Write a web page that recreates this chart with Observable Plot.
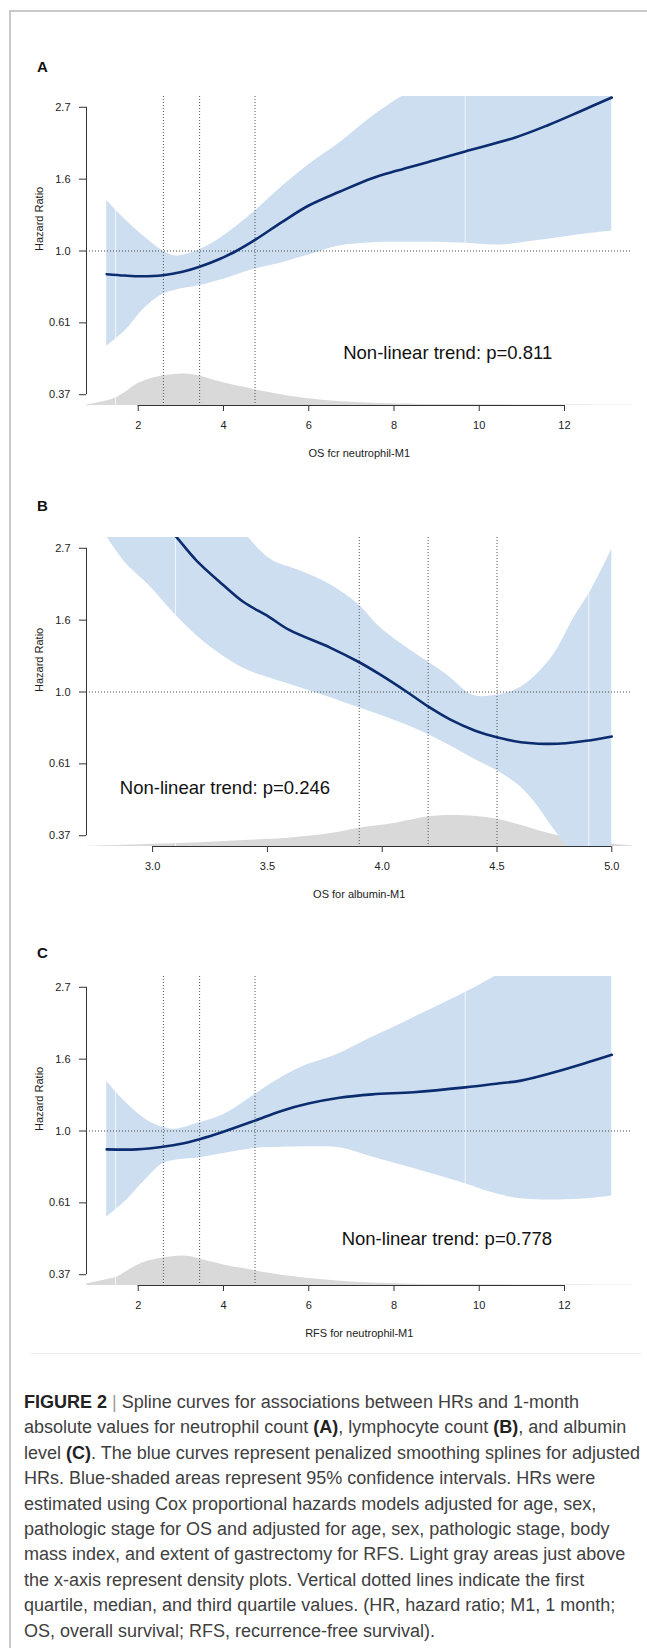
<!DOCTYPE html>
<html>
<head>
<meta charset="utf-8">
<script src="https://cdn.jsdelivr.net/npm/d3@7"></script>
<script src="https://cdn.jsdelivr.net/npm/@observablehq/plot@0.6"></script>
<style>
  html, body { margin: 0; padding: 0; background: #ffffff; }
  #fig { position: relative; width: 647px; height: 1648px; overflow: hidden; background: #fff;
         font-family: "Liberation Sans", Arial, Helvetica, sans-serif; }
  #frame { position: absolute; left: 9px; top: 10px; width: 800px; height: 1800px;
           border-left: 2px solid #c9c9c9; border-top: 2px solid #c9c9c9; }
  .panel { position: absolute; left: 0; }
  .letter { position: absolute; left: 37px; font-weight: bold; font-size: 15px; line-height: 15px; color: #111; }
  #sep { position: absolute; left: 31px; top: 1353px; width: 610px; height: 1px; background: #ededed; }
  #caption { position: absolute; left: 24px; top: 1390px; font-size: 18px; line-height: 25.4px;
             color: #404040; white-space: nowrap; }
  #caption b { color: #222; }
  #caption .bar { color: #9a9a9a; }
</style>
</head>
<body>
<div id="fig">
  <div id="frame"></div>
  <div id="sep"></div>
  <div id="caption">
    <div><b>FIGURE 2</b> <span class="bar">|</span> Spline curves for associations between HRs and 1-month</div>
    <div>absolute values for neutrophil count <b>(A)</b>, lymphocyte count <b>(B)</b>, and albumin</div>
    <div>level <b>(C)</b>. The blue curves represent penalized smoothing splines for adjusted</div>
    <div>HRs. Blue-shaded areas represent 95% confidence intervals. HRs were</div>
    <div>estimated using Cox proportional hazards models adjusted for age, sex,</div>
    <div>pathologic stage for OS and adjusted for age, sex, pathologic stage, body</div>
    <div>mass index, and extent of gastrectomy for RFS. Light gray areas just above</div>
    <div>the x-axis represent density plots. Vertical dotted lines indicate the first</div>
    <div>quartile, median, and third quartile values. (HR, hazard ratio; M1, 1 month;</div>
    <div>OS, overall survival; RFS, recurrence-free survival).</div>
  </div>
</div>
<script>
// ---------------- shared axis data ----------------
const yTickValues = [0.3679, 0.6065, 1.0, 1.6487, 2.7183];
const yTickLabels = ["0.37", "0.61", "1.0", "1.6", "2.7"];
const yDomain = [0.3413, 2.930];

// ---------------- Panel A: OS for neutrophil ----------------
const aCurveX = [1.26, 1.68, 2.07, 2.58, 3.04, 3.44, 3.91, 4.30, 4.74, 5.36, 5.99, 6.72, 7.49, 8.08, 8.95, 9.67, 10.83, 11.61, 12.39, 13.11];
const aCurveHR = [0.851, 0.843, 0.839, 0.845, 0.865, 0.896, 0.946, 1.0, 1.08, 1.22, 1.37, 1.51, 1.66, 1.75, 1.88, 2.0, 2.20, 2.40, 2.65, 2.91];
const aBandX = [1.26, 1.68, 2.16, 2.58, 2.89, 3.42, 4.0, 4.74, 5.36, 5.99, 6.72, 7.49, 8.22, 9.0, 9.67, 10.5, 11.37, 12.34, 13.11];
const aUpper = [1.42, 1.25, 1.10, 1.0, 0.966, 1.007, 1.11, 1.32, 1.56, 1.82, 2.12, 2.55, 2.95, 3.4, 3.8, 4.3, 4.8, 5.4, 6.0];
const aLower = [0.515, 0.572, 0.674, 0.74, 0.763, 0.785, 0.822, 0.882, 0.92, 0.972, 1.035, 1.06, 1.063, 1.062, 1.055, 1.043, 1.075, 1.12, 1.15];
const aDensX = [0.79, 1.2, 1.47, 1.7, 1.95, 2.2, 2.58, 2.8, 3.04, 3.25, 3.44, 3.7, 4.0, 4.4, 4.74, 5.1, 5.56, 6.0, 6.53, 7.0, 7.5, 8.46, 9.5, 10.4, 11.5, 13.0, 13.58];
const aDens = [0.02, 0.13, 0.24, 0.42, 0.66, 0.81, 0.93, 0.97, 1.0, 0.98, 0.93, 0.83, 0.72, 0.6, 0.5, 0.4, 0.29, 0.21, 0.14, 0.1, 0.07, 0.04, 0.03, 0.02, 0.015, 0.01, 0.01];
const aQuartiles = [2.59, 3.44, 4.74];
const aSeams = [1.47, 9.67];
const aXTicks = [2, 4, 6, 8, 10, 12];
const aXTickLabels = ["2", "4", "6", "8", "10", "12"];

// ---------------- Panel B: OS for albumin ----------------
const bCurveX = [2.8, 2.9, 3.0, 3.10, 3.19, 3.306, 3.396, 3.505, 3.595, 3.775, 3.90, 3.99, 4.108, 4.198, 4.297, 4.405, 4.495, 4.604, 4.71, 4.80, 4.89, 5.0];
const bCurveHR = [5.0, 4.2, 3.55, 2.96, 2.50, 2.11, 1.87, 1.69, 1.54, 1.36, 1.23, 1.13, 1.0, 0.906, 0.825, 0.764, 0.731, 0.705, 0.697, 0.70, 0.712, 0.734];
const bBandX = [2.8, 2.883, 2.982, 3.10, 3.234, 3.396, 3.514, 3.63, 3.775, 3.90, 3.99, 4.135, 4.28, 4.396, 4.495, 4.586, 4.658, 4.748, 4.838, 4.91, 5.0];
const bUpper = [6.5, 6.1, 5.6, 5.0, 4.3, 3.05, 2.52, 2.34, 2.11, 1.83, 1.57, 1.32, 1.13, 0.977, 0.977, 1.02, 1.105, 1.30, 1.69, 2.03, 2.70];
const bLower = [2.95, 2.45, 2.11, 1.71, 1.40, 1.18, 1.10, 1.037, 0.961, 0.896, 0.852, 0.78, 0.698, 0.63, 0.581, 0.528, 0.47, 0.385, 0.32, 0.28, 0.24];
const bDensX = [2.712, 2.8, 3.0, 3.23, 3.4, 3.6, 3.77, 3.9, 4.045, 4.198, 4.28, 4.41, 4.495, 4.6, 4.73, 4.86, 5.0, 5.088];
const bDens = [0.0, 0.02, 0.07, 0.13, 0.19, 0.27, 0.4, 0.58, 0.72, 0.93, 0.98, 0.95, 0.87, 0.68, 0.4, 0.21, 0.08, 0.02];
const bQuartiles = [3.9, 4.2, 4.5];
const bSeams = [3.10, 4.90];
const bXTicks = [3.0, 3.5, 4.0, 4.5, 5.0];
const bXTickLabels = ["3.0", "3.5", "4.0", "4.5", "5.0"];

// ---------------- Panel C: RFS for neutrophil ----------------
const cCurveX = [1.26, 1.97, 2.58, 3.04, 3.44, 4.0, 4.74, 5.36, 5.99, 6.72, 7.49, 8.46, 9.67, 10.4, 10.98, 11.76, 12.53, 13.11];
const cCurveHR = [0.88, 0.88, 0.896, 0.917, 0.945, 0.995, 1.075, 1.15, 1.21, 1.26, 1.29, 1.31, 1.355, 1.39, 1.42, 1.505, 1.61, 1.70];
const cBandX = [1.26, 1.68, 2.16, 2.58, 2.84, 3.44, 4.0, 4.74, 5.36, 5.99, 6.43, 6.82, 7.49, 8.46, 9.67, 10.4, 10.98, 11.85, 12.53, 13.11];
const cUpper = [1.41, 1.23, 1.088, 1.026, 1.012, 1.06, 1.12, 1.29, 1.45, 1.59, 1.66, 1.74, 1.92, 2.20, 2.62, 2.95, 3.3, 3.75, 4.1, 4.4];
const cLower = [0.549, 0.61, 0.71, 0.797, 0.815, 0.83, 0.855, 0.886, 0.893, 0.896, 0.896, 0.886, 0.835, 0.77, 0.693, 0.646, 0.624, 0.619, 0.624, 0.636];
const cDensX = [0.79, 1.2, 1.49, 1.7, 1.97, 2.2, 2.58, 2.8, 3.04, 3.25, 3.44, 3.7, 4.0, 4.4, 4.74, 5.1, 5.56, 6.0, 6.53, 7.0, 7.49, 8.46, 9.5, 10.4, 11.5, 13.0, 13.58];
const cDens = [0.05, 0.17, 0.26, 0.42, 0.63, 0.76, 0.87, 0.91, 0.93, 0.91, 0.84, 0.75, 0.65, 0.55, 0.47, 0.38, 0.29, 0.22, 0.16, 0.11, 0.08, 0.04, 0.03, 0.02, 0.015, 0.01, 0.01];
const cQuartiles = [2.59, 3.44, 4.74];
const cSeams = [1.47, 9.67];

// ---------------- labels ----------------
const panelLetters = ["A", "B", "C"];
const xTitles = ["OS fcr neutrophil-M1", "OS for albumin-M1", "RFS for neutrophil-M1"];
const trendLabels = ["Non-linear trend: p=0.811", "Non-linear trend: p=0.246", "Non-linear trend: p=0.778"];
const trendX = [9.26, 3.315, 9.24];
const trendHR = [0.4926, 0.514, 0.472];

// ---------------- layout ----------------
const FONT = '"Liberation Sans", Arial, Helvetica, sans-serif';
const panelTops = [79.5, 520.7, 959.5];
const letterTops = [59.2, 498.2, 944.9];
const DENS_SCALE = 0.22; // log-units of height for a density of 1

const panels = [
  {cx: aCurveX, cy: aCurveHR, bx: aBandX, up: aUpper, lo: aLower, dx: aDensX, dd: aDens, q: aQuartiles, seams: aSeams,
   xDomain: [0.786, 13.584], ticks: aXTicks, tickLabels: aXTickLabels},
  {cx: bCurveX, cy: bCurveHR, bx: bBandX, up: bUpper, lo: bLower, dx: bDensX, dd: bDens, q: bQuartiles, seams: bSeams,
   xDomain: [2.712, 5.088], ticks: bXTicks, tickLabels: bXTickLabels},
  {cx: cCurveX, cy: cCurveHR, bx: cBandX, up: cUpper, lo: cLower, dx: cDensX, dd: cDens, q: cQuartiles, seams: cSeams,
   xDomain: [0.786, 13.584], ticks: aXTicks, tickLabels: aXTickLabels}
];

const fig = document.getElementById("fig");
const yLabelOf = new Map(yTickValues.map((v, i) => [v, yTickLabels[i]]));

panels.forEach((p, k) => {
  const curve = p.cx.map((x, i) => ({x, hr: p.cy[i]}));
  const band = p.bx.map((x, i) => ({x, lo: p.lo[i], hi: p.up[i]}));
  const dens = p.dx.map((x, i) => ({x, d: p.dd[i]}));
  const upperAt = d3.scaleLinear().domain(p.bx).range(p.up);
  const seams = p.seams.map(x => ({x, top: upperAt(x)}));
  const xLabelOf = new Map(p.ticks.map((v, i) => [v, p.tickLabels[i]]));
  const yMin = yDomain[0];

  const chart = Plot.plot({
    width: 647,
    height: 390,
    marginLeft: 86,
    marginRight: 15.5,
    marginTop: 16,
    marginBottom: 65,
    style: {fontFamily: FONT, fontSize: "11px", color: "#222", background: "transparent", overflow: "visible"},
    x: {domain: p.xDomain},
    y: {type: "log", domain: yDomain},
    marks: [
      Plot.areaY(dens, {x: "x", y1: () => yMin, y2: d => yMin * Math.exp(d.d * DENS_SCALE),
        fill: "#d9d9d9", curve: "catmull-rom", clip: true}),
      Plot.areaY(band, {x: "x", y1: "lo", y2: "hi", fill: "#cddef0", curve: "catmull-rom", clip: true}),
      Plot.ruleX(seams, {x: "x", y1: () => yMin, y2: "top", stroke: "#ffffff", strokeOpacity: 0.75, strokeWidth: 1, clip: true}),
      Plot.ruleY([1], {stroke: "#444", strokeWidth: 1, strokeDasharray: "1,2"}),
      Plot.ruleX(p.q, {stroke: "#555", strokeWidth: 1, strokeDasharray: "1,2"}),
      Plot.line(curve, {x: "x", y: "hr", stroke: "#0b2c6f", strokeWidth: 2.6, curve: "catmull-rom", clip: true}),
      Plot.text([trendLabels[k]], {x: () => trendX[k], y: () => trendHR[k], text: d => d,
        fontSize: 18.5, fill: "#111", textAnchor: "middle", lineAnchor: "middle"}),
      Plot.axisX(p.ticks, {tickSize: 6, tickPadding: 10, tickFormat: d => xLabelOf.get(d), label: null,
        stroke: "#333", fill: "#222"}),
      Plot.axisY(yTickValues, {tickSize: 7, tickPadding: 9, tickFormat: d => yLabelOf.get(d), label: null,
        stroke: "#333", fill: "#222"}),
      Plot.ruleY([yMin], {x1: () => p.ticks[0], x2: () => p.ticks[p.ticks.length - 1], stroke: "#333", strokeWidth: 1}),
      Plot.ruleX([p.xDomain[0]], {y1: () => yTickValues[0], y2: () => yTickValues[yTickValues.length - 1], stroke: "#333", strokeWidth: 1}),
      Plot.text([xTitles[k]], {frameAnchor: "bottom", dy: 48, text: d => d, fontSize: 11, fill: "#222", lineAnchor: "middle"}),
      Plot.text(["Hazard Ratio"], {frameAnchor: "left", dx: -47, rotate: -90, text: d => d, fontSize: 11, fill: "#222", lineAnchor: "middle"})
    ]
  });
  chart.classList.add("panel");
  chart.style.top = panelTops[k] + "px";
  fig.appendChild(chart);

  const letter = document.createElement("div");
  letter.className = "letter";
  letter.style.top = letterTops[k] + "px";
  letter.textContent = panelLetters[k];
  fig.appendChild(letter);
});
</script>
</body>
</html>
